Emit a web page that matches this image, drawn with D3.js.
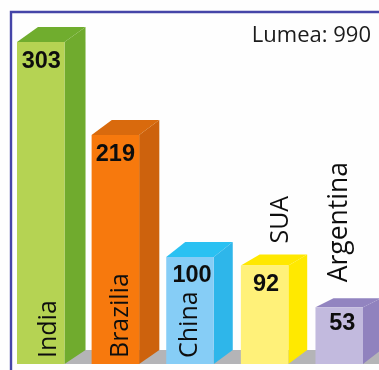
<!DOCTYPE html>
<html>
<head>
<meta charset="utf-8">
<script src="https://cdnjs.cloudflare.com/ajax/libs/d3/7.8.5/d3.min.js"></script>
<style>html,body{margin:0;padding:0;background:#fff;overflow:hidden}svg{display:block}</style>
</head>
<body>
<svg id="c" width="379" height="370"></svg>
<script>
const categories = ["India", "Brazilia", "China", "SUA", "Argentina"];
const values = [303, 219, 100, 92, 53];
const totalLabel = "Lumea: 990";
const frontColors = ["#b5d352", "#f7790f", "#86cdf6", "#fff179", "#c2bade"];
const sideColors = ["#6fab2d", "#cd6208", "#2fb6ea", "#ffe900", "#9082be"];
const topColors = ["#70ad2e", "#d96b0a", "#2cc1f2", "#ffe800", "#9284c0"];
const labelBaselineOffsets = [39, 36, 31, 47, 32];
const labelSizes = [25, 25, 25, 25, 26.5];
const numberShiftX = [0.5, 0, 2, 1.5, 3];
const numberShiftY = [26, 26, 25, 25, 23];

const W = 379, H = 370, base = 364;
const svg = d3.select("#c");
const defs = svg.append("defs");
defs.append("filter").attr("id", "soft").append("feGaussianBlur").attr("stdDeviation", 0.45);

const x = d3.scaleBand().domain(categories).range([17, 363]).paddingInner(0.363).paddingOuter(0);
const y = d3.scaleLinear().domain([0, 100, 219, 303]).range([base, 257, 135, 42]);
const depthX = d3.scaleLinear().domain([53, 100, 303]).range([18, 19, 21]);
const depthY = d3.scaleLinear().domain([53, 92, 100, 303]).range([9, 11, 15, 15]);

const g = svg.append("g").attr("filter", "url(#soft)");
g.append("rect").attr("width", W).attr("height", H).attr("fill", "#fefefe");

g.append("path").attr("d", `M11,${H}V12H${W}`).attr("fill", "none")
  .attr("stroke", "#4444a8").attr("stroke-width", 2.4);

g.append("rect").attr("x", x("India") + x.bandwidth()).attr("y", base - 14)
  .attr("width", W).attr("height", 14).attr("fill", "#b4b4b7");

const data = categories.map((name, i) => ({ name, value: values[i], i }));
const bars = g.selectAll("g.bar").data(data).join("g").attr("class", "bar");
const bw = x.bandwidth();

bars.append("path").attr("fill", d => topColors[d.i]).attr("d", d => {
  const l = x(d.name), t = y(d.value), dx = depthX(d.value), dy = depthY(d.value);
  return `M${l},${t}L${l + dx},${t - dy}H${l + bw + dx}L${l + bw},${t}Z`;
});
bars.append("path").attr("fill", d => sideColors[d.i]).attr("d", d => {
  const r = x(d.name) + bw, t = y(d.value), dx = depthX(d.value), dy = depthY(d.value);
  return `M${r},${t}L${r + dx},${t - dy}V${base - 14}L${r},${base}Z`;
});
bars.append("rect").attr("fill", d => frontColors[d.i])
  .attr("x", d => x(d.name)).attr("y", d => y(d.value))
  .attr("width", bw).attr("height", d => base - y(d.value));

bars.append("text").text(d => d.value)
  .attr("x", d => x(d.name) + bw / 2 + numberShiftX[d.i])
  .attr("y", d => y(d.value) + numberShiftY[d.i])
  .attr("text-anchor", "middle")
  .attr("font-family", "'Liberation Sans', Arial, sans-serif")
  .attr("font-weight", 700).attr("font-size", 23.5).attr("fill", "#111");

bars.append("text").text(d => d.name)
  .attr("transform", d => {
    const px = x(d.name) + labelBaselineOffsets[d.i];
    const py = d.value > 99 ? base - 6 : y(d.value) - (d.value > 60 ? 22 : 25);
    return `translate(${px},${py}) rotate(-90)`;
  })
  .attr("font-family", "'Open Sans', sans-serif")
  .attr("font-size", d => labelSizes[d.i]).attr("fill", "#111");

g.append("text").text(totalLabel).attr("x", 371).attr("y", 42)
  .attr("text-anchor", "end").attr("font-family", "'Open Sans', sans-serif")
  .attr("font-size", 22).attr("fill", "#1a1a1a");
</script>
</body>
</html>
